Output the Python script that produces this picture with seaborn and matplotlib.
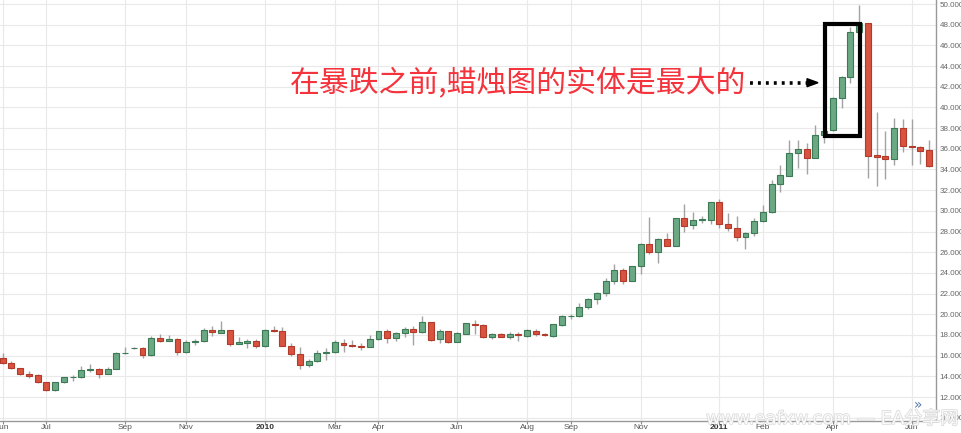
import numpy as np
import pandas as pd
import matplotlib
matplotlib.use("Agg")
import matplotlib.pyplot as plt
import matplotlib.patheffects as pe
from matplotlib.patches import Rectangle, Polygon
from matplotlib.lines import Line2D
import seaborn as sns

# weekly OHLC (Jun 2009 - Jun 2011)
opens = [15.78, 15.26, 14.82, 14.21, 14.11, 13.41, 12.64, 13.41, 13.89, 13.89,
         14.59, 14.66, 14.18, 14.72, 16.22, 16.70, 16.70, 16.06, 17.70, 17.44,
         17.63, 16.32, 17.28, 17.41, 18.46, 18.21, 18.46, 17.15, 17.25, 17.41,
         16.90, 18.46, 18.34, 16.93, 16.16, 15.10, 15.46, 16.26, 16.35, 17.25,
         17.06, 16.96, 16.86, 17.60, 18.37, 17.66, 18.18, 18.59, 18.24, 19.23,
         17.57, 18.34, 17.34, 18.14, 19.10, 18.98, 17.79, 18.08, 17.79, 18.11,
         17.89, 18.43, 18.11, 17.89, 19.01, 19.81, 19.84, 20.66, 21.43, 22.05,
         23.20, 24.26, 23.23, 24.65, 26.77, 26.00, 27.31, 26.64, 29.27, 28.60,
         29.10, 29.14, 30.81, 28.72, 28.37, 27.44, 27.86, 29.01, 29.88, 32.60,
         33.39, 35.55, 35.94, 35.16, 37.29, 37.81, 40.90, 42.97, 47.26, 48.13,
         35.39, 35.26, 35.03, 38.03, 36.32, 36.16, 35.87]
highs = [16.22, 15.49, 14.85, 14.50, 14.18, 13.47, 13.47, 13.95, 14.14, 15.04,
         15.23, 14.78, 14.88, 16.35, 16.86, 16.80, 16.80, 17.92, 18.11, 17.98,
         17.70, 17.50, 17.63, 18.72, 18.91, 19.36, 18.46, 17.76, 17.57, 17.57,
         18.53, 18.85, 18.78, 17.18, 16.86, 15.71, 16.54, 16.70, 17.54, 17.57,
         17.54, 17.18, 18.02, 18.40, 18.56, 18.24, 18.78, 18.85, 19.81, 19.30,
         18.56, 18.43, 18.24, 19.20, 19.42, 19.04, 18.18, 18.18, 18.24, 18.24,
         18.53, 18.53, 18.18, 19.10, 19.90, 20.06, 21.05, 21.56, 22.17, 23.49,
         24.90, 24.45, 24.71, 26.86, 29.40, 27.38, 27.89, 29.33, 30.65, 29.91,
         29.46, 30.88, 31.10, 29.78, 29.50, 27.95, 29.30, 30.52, 32.97, 34.45,
         36.84, 36.84, 36.58, 38.29, 37.80, 41.03, 43.03, 47.74, 49.90, 48.13,
         39.55, 37.74, 38.98, 38.90, 38.84, 36.29, 36.81]
lows = [15.20, 14.75, 14.11, 13.82, 13.38, 12.60, 12.60, 13.34, 13.50, 13.82,
        14.37, 13.82, 14.18, 14.72, 16.19, 16.67, 15.78, 16.00, 17.34, 17.38,
        16.10, 16.26, 17.02, 17.34, 17.92, 18.18, 16.96, 17.09, 16.77, 16.77,
        16.83, 18.27, 16.90, 16.00, 14.66, 14.91, 15.42, 15.62, 16.29, 16.32,
        16.86, 16.51, 16.80, 17.54, 17.22, 17.38, 17.82, 17.02, 18.18, 17.44,
        17.22, 17.22, 17.28, 18.08, 18.14, 17.73, 17.57, 17.76, 17.57, 17.38,
        17.82, 17.89, 17.89, 17.82, 18.85, 19.55, 19.70, 20.53, 20.99, 21.79,
        22.88, 22.88, 23.17, 23.94, 25.80, 25.00, 26.57, 26.57, 27.99, 28.28,
        28.82, 28.76, 28.31, 28.05, 27.09, 26.35, 27.57, 28.95, 29.82, 31.84,
        33.35, 34.10, 33.61, 35.13, 36.52, 37.74, 39.90, 42.32, 47.26, 33.13,
        32.45, 33.06, 34.45, 35.70, 34.45, 34.50, 34.26]
closes = [15.26, 14.82, 14.21, 14.05, 13.44, 12.64, 13.41, 13.89, 13.95, 14.62,
          14.72, 14.18, 14.75, 16.26, 16.29, 16.77, 16.06, 17.73, 17.41, 17.63,
          16.32, 17.31, 17.41, 18.46, 18.24, 18.46, 17.15, 17.31, 17.41, 16.90,
          18.46, 18.34, 16.93, 16.16, 15.14, 15.49, 16.26, 16.38, 17.28, 17.02,
          16.93, 16.86, 17.63, 18.37, 17.66, 18.18, 18.59, 18.24, 19.23, 17.54,
          18.34, 17.34, 18.18, 19.14, 18.98, 17.79, 18.08, 17.82, 18.11, 17.95,
          18.46, 18.05, 17.95, 19.04, 19.84, 19.87, 20.68, 21.47, 22.08, 23.23,
          24.26, 23.23, 24.65, 26.80, 26.03, 27.28, 26.64, 29.27, 28.56, 29.14,
          29.17, 30.81, 28.69, 28.37, 27.44, 27.89, 29.05, 29.91, 32.55, 33.42,
          35.55, 35.94, 35.16, 37.29, 37.74, 40.94, 42.97, 47.26, 48.13, 35.35,
          35.23, 35.03, 38.03, 36.29, 36.16, 35.81, 34.35]

# x tick labels, placed at the week (candle number) where they sit
tick_weeks = [0, 5, 14, 21, 30, 38, 43, 52, 60, 65, 73, 82, 87, 95, 104]
tick_labels = ["Jun", "Jul", "Sep", "Nov", "2010", "Mar", "Apr", "Jun",
               "Aug", "Sep", "Nov", "2011", "Feb", "Apr", "Jun"]

note_text = "在暴跌之前,蜡烛图的实体是最大的"
watermark = "www.eafxw.com — EA分享网"

sns.set_theme(style="whitegrid")
plt.rcParams['font.family'] = ['Liberation Sans', 'Noto Sans CJK SC', 'DejaVu Sans']

df = pd.DataFrame({"open": opens, "high": highs, "low": lows, "close": closes})
df["week"] = np.arange(len(df))
df["up"] = df["close"] >= df["open"]

fig = plt.figure(figsize=(9.62, 4.33), dpi=100)
ax = fig.add_axes([0, 12 / 433, 936 / 962, 421 / 433])
ax.set_facecolor("white")

# wicks
ax.vlines(df["week"], df["low"], df["high"], color="#a3a3a3", lw=1, zorder=2)

# bodies
body_bottom = np.minimum(df["open"], df["close"])
body_height = np.maximum((df["close"] - df["open"]).abs(), 0.06)
fills = np.where(df["up"], "#6aa984", "#d9533f")
edges = np.where(df["up"], "#3b7a54", "#b23a2a")
ax.bar(df["week"], body_height, bottom=body_bottom, width=0.68,
       color=fills, edgecolor=edges, linewidth=0.8, zorder=3)

ax.set_xlim(-0.31, 106.8)
ax.set_ylim(9.68, 50.39)

ax.set_yticks(np.arange(10, 51, 2))
ax.set_yticklabels([f"{v:.3f}" for v in np.arange(10, 51, 2)])
ax.yaxis.tick_right()
ax.tick_params(axis="y", right=False, left=False, length=0, pad=2.5,
               labelsize=5.8, labelcolor="#666666")

ax.set_xticks(tick_weeks)
ax.set_xticklabels(tick_labels)
ax.tick_params(axis="x", bottom=True, length=2, width=0.8, color="#888888",
               pad=0.5, labelsize=6, labelcolor="#555555")
for lab in ax.get_xticklabels():
    if lab.get_text().isdigit():
        lab.set_fontweight("bold")
        lab.set_color("#333333")

ax.grid(True, color="#e9e9e9", lw=0.8, zorder=0)
for side in ["left", "top"]:
    ax.spines[side].set_visible(False)
for side in ["right", "bottom"]:
    ax.spines[side].set_visible(True)
    ax.spines[side].set_color("#999999")
    ax.spines[side].set_linewidth(1)

# box around the growing bodies before the crash
ax.add_patch(Rectangle((94.07, 37.24), 4.03, 10.83, fill=False,
                       edgecolor="black", lw=3, zorder=5))

# red note with dotted arrow
fig.text(290 / 962, 1 - 84 / 433, note_text, color="#f4333c", fontsize=21.5,
         va="center", ha="left", family=["Noto Sans CJK SC", "DejaVu Sans"])
ay = 1 - 82.7 / 433
fig.add_artist(Line2D([750 / 962, 808 / 962], [ay, ay], color="black", lw=2.6,
                      ls=(0, (0.8, 1.4)), transform=fig.transFigure))
fig.add_artist(Polygon([[807 / 962, ay + 4 / 433], [818 / 962, ay],
                        [807 / 962, ay - 4 / 433]], closed=True,
                       color="black", transform=fig.transFigure))

# small chart button and faint watermark
fig.text(918 / 962, 1 - 405 / 433, "»", color="#5a78a8", fontsize=10,
         ha="center", va="center", family=["DejaVu Sans"])
fig.text(706 / 962, 1 - 419 / 433, watermark, color="white", fontsize=13,
         ha="left", va="center", alpha=0.85,
         family=["DejaVu Sans", "Noto Sans CJK SC"],
         path_effects=[pe.withStroke(linewidth=1.0, foreground="#d2d2d2")])

fig.savefig("out.png", dpi=100, facecolor="white")
